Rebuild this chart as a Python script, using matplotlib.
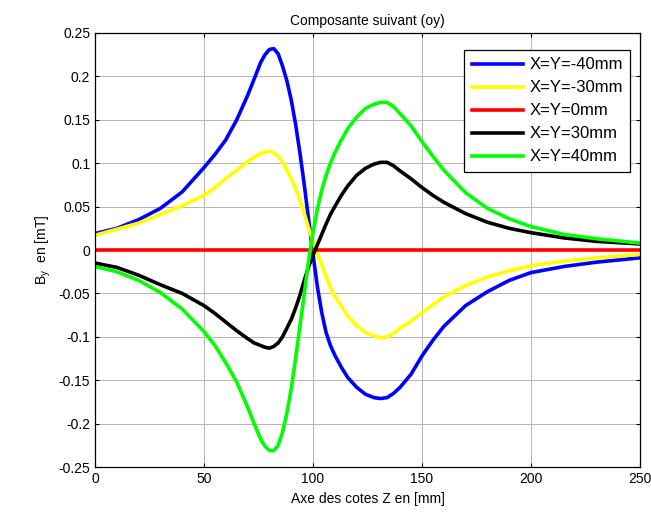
import numpy as np
import matplotlib
matplotlib.use("Agg")
import matplotlib.pyplot as plt

plt.rcParams['font.family'] = ['Liberation Sans', 'DejaVu Sans']

# Z positions along the axis [mm]
z = [0, 10, 20, 30, 40, 50, 55, 60, 65, 70, 73, 76, 78, 80, 82, 84, 86, 88,
     90, 92, 94, 96, 98, 100, 102, 104, 106, 108, 110, 113, 116, 120, 124,
     128, 131, 134, 137, 140, 145, 150, 155, 160, 170, 180, 190, 200, 215,
     230, 250]

# By [mT] for each (X=Y) position
by_m40 = [0.019, 0.025, 0.035, 0.048, 0.067, 0.095, 0.110, 0.127, 0.150, 0.178,
          0.197, 0.216, 0.225, 0.231, 0.232, 0.226, 0.212, 0.195, 0.173, 0.145,
          0.112, 0.075, 0.035, -0.005, -0.042, -0.072, -0.095, -0.110, -0.121,
          -0.135, -0.147, -0.158, -0.166, -0.170, -0.171, -0.170, -0.165, -0.158,
          -0.143, -0.122, -0.104, -0.088, -0.064, -0.048, -0.035, -0.026, -0.019,
          -0.014, -0.009]
by_m30 = [0.017, 0.024, 0.031, 0.041, 0.051, 0.063, 0.072, 0.082, 0.092, 0.102,
          0.107, 0.111, 0.113, 0.114, 0.112, 0.108, 0.101, 0.092, 0.082, 0.071,
          0.057, 0.042, 0.025, 0.010, -0.004, -0.017, -0.031, -0.043, -0.053,
          -0.065, -0.076, -0.087, -0.095, -0.099, -0.101, -0.100, -0.096, -0.090,
          -0.082, -0.072, -0.063, -0.054, -0.041, -0.031, -0.024, -0.018, -0.013,
          -0.009, -0.005]
by_0 = [0.0] * len(z)
by_p30 = [-0.015, -0.020, -0.029, -0.040, -0.050, -0.064, -0.073, -0.083, -0.093, -0.102,
          -0.107, -0.110, -0.112, -0.113, -0.111, -0.107, -0.100, -0.090, -0.080, -0.067,
          -0.052, -0.035, -0.019, -0.006, 0.006, 0.018, 0.030, 0.041, 0.050,
          0.063, 0.074, 0.086, 0.094, 0.099, 0.101, 0.101, 0.097, 0.091,
          0.082, 0.072, 0.063, 0.055, 0.042, 0.032, 0.025, 0.020, 0.014,
          0.010, 0.007]
by_p40 = [-0.019, -0.025, -0.035, -0.049, -0.068, -0.094, -0.110, -0.130, -0.152, -0.181,
          -0.200, -0.218, -0.226, -0.231, -0.231, -0.225, -0.210, -0.188, -0.160, -0.125,
          -0.088, -0.050, -0.012, 0.020, 0.047, 0.069, 0.086, 0.100, 0.112,
          0.127, 0.140, 0.153, 0.163, 0.168, 0.170, 0.170, 0.165, 0.157,
          0.143, 0.125, 0.108, 0.092, 0.066, 0.048, 0.036, 0.027, 0.018,
          0.013, 0.008]

labels = ['X=Y=-40mm', 'X=Y=-30mm', 'X=Y=0mm', 'X=Y=30mm', 'X=Y=40mm']
colors = ['#0000ff', '#ffff00', '#ff0000', '#000000', '#00ff00']

fig = plt.figure(figsize=(6.51, 5.15), dpi=100)
ax = fig.add_axes([0.146, 0.093, 0.837, 0.843])

for series, lab, col in zip([by_m40, by_m30, by_0, by_p30, by_p40], labels, colors):
    ax.plot(z, series, color=col, linewidth=2.6, label=lab)

ax.set_xlim(0, 250)
ax.set_ylim(-0.25, 0.25)
ax.set_xticks(np.arange(0, 251, 50))
ax.set_yticks(np.arange(-0.25, 0.251, 0.05))
ax.set_yticklabels(['-0.25', '-0.2', '-0.15', '-0.1', '-0.05', '0',
                    '0.05', '0.1', '0.15', '0.2', '0.25'])
ax.grid(True, color='#b4b4b4', linewidth=0.7)
ax.tick_params(direction='in', top=True, right=True, labelsize=10, length=3)
for s in ax.spines.values():
    s.set_linewidth(0.9)

ax.set_title('Composante suivant (oy)', fontsize=10)
ax.set_xlabel('Axe des cotes Z en [mm]', fontsize=10)
ax.set_ylabel(r'B$_\mathregular{y}$  en [mT]', fontsize=10)

leg = ax.legend(loc='upper right', bbox_to_anchor=(0.982, 0.961), fontsize=12,
                fancybox=False, framealpha=1, edgecolor='black', handlelength=3.1,
                borderpad=0.45, labelspacing=0.48, borderaxespad=0, handletextpad=0.35)
leg.get_frame().set_linewidth(0.9)

fig.savefig('out.png', dpi=100)
